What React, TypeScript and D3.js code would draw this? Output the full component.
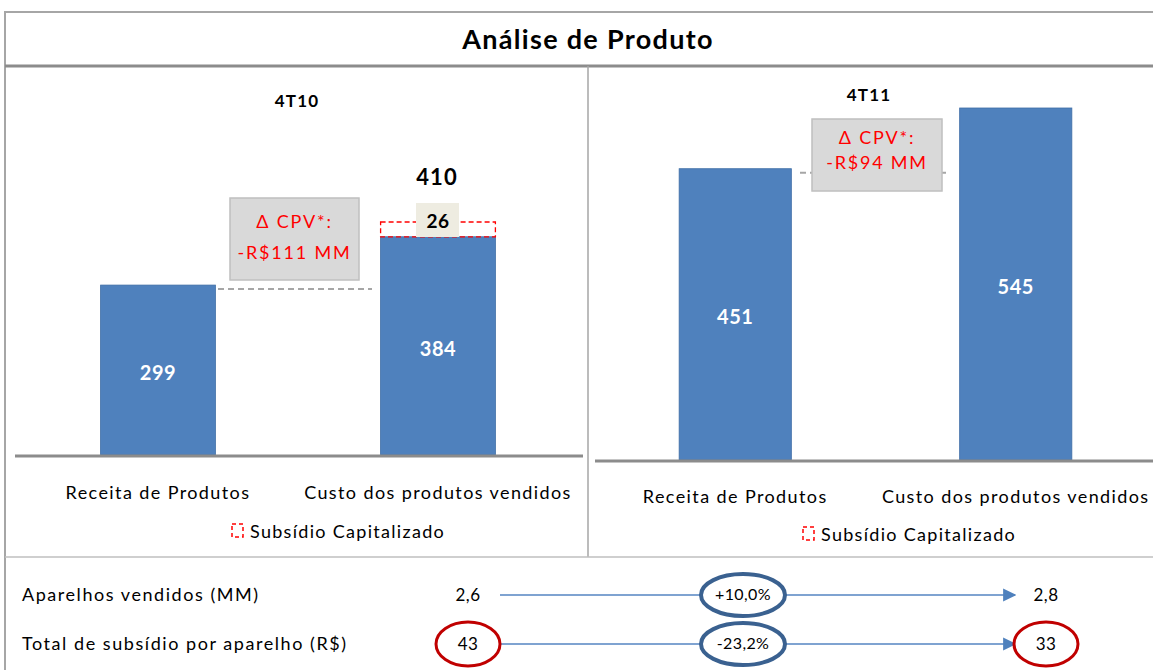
import React from "react";
import * as d3 from "d3";

const categories = ["Receita de Produtos", "Custo dos produtos vendidos"];
const periods = ["4T10", "4T11"];
const values4T10 = [299, 384];
const subsidy4T10 = [0, 26];
const total4T10 = [299, 410];
const values4T11 = [451, 545];
const cpvLabels = ["-R$111 MM", "-R$94 MM"];
const rowLabels = ["Aparelhos vendidos (MM)", "Total de subsídio por aparelho (R$)"];
const rowStart = ["2,6", "43"];
const rowEnd = ["2,8", "33"];
const rowChange = ["+10,0%", "-23,2%"];

const FONT = "Lato, 'Open Sans', sans-serif";
const BLUE = "#4F81BD";

export default function App() {
  const panels = [
    {
      period: periods[0],
      values: values4T10,
      subsidy: subsidy4T10,
      totals: total4T10,
      x: d3.scaleBand<string>().domain(categories).range([18, 578]).paddingInner(0.59).paddingOuter(0.295),
      y: d3.scaleLinear().domain([0, 410]).range([455, 222]),
      titleX: 297,
      titleY: 107,
      labelY: 499,
      legendY: 538,
      legendX: 232,
      cpv: cpvLabels[0],
      box: { x: 230, y: 198, w: 129, h: 82, t1: 30, t2: 61 },
      dash: { x1: 218, x2: 372 },
      base: { x1: 15, x2: 583 },
    },
    {
      period: periods[1],
      values: values4T11,
      subsidy: [0, 0],
      totals: values4T11,
      x: d3.scaleBand<string>().domain(categories).range([595, 1156]).paddingInner(0.6).paddingOuter(0.3),
      y: d3.scaleLinear().domain([0, 545]).range([460, 108]),
      titleX: 869,
      titleY: 101,
      labelY: 503,
      legendY: 541,
      legendX: 803,
      cpv: cpvLabels[1],
      box: { x: 812, y: 119, w: 130, h: 72, t1: 25, t2: 50 },
      dash: { x1: 800, x2: 950 },
      base: { x1: 595, x2: 1153 },
    },
  ];

  const rowY = [595, 644];

  return (
    <svg width={1153} height={670} style={{ position: "absolute", left: 0, top: 0, background: "#fff" }} fontFamily={FONT}>
      {/* frames */}
      <rect x={5} y={12} width={1160} height={700} fill="none" stroke="#A6A6A6" strokeWidth={2} />
      <line x1={5} x2={1153} y1={66} y2={66} stroke="#8C8C8C" strokeWidth={3} />
      <line x1={588} x2={588} y1={66} y2={557} stroke="#A6A6A6" strokeWidth={1.5} />
      <line x1={5} x2={1153} y1={557} y2={557} stroke="#BFBFBF" strokeWidth={1.5} />
      <text x={588} y={49} textAnchor="middle" fontSize={27} fontWeight={700} letterSpacing={1.3} fill="#000">
        Análise de Produto
      </text>

      {panels.map((p, pi) => {
        const bw = p.x.bandwidth();
        return (
          <g key={pi}>
            <text x={p.titleX} y={p.titleY} textAnchor="middle" fontSize={17} fontWeight={700} letterSpacing={1.2} fill="#000">
              {p.period}
            </text>
            {categories.map((c, i) => {
              const x0 = p.x(c)!;
              const top = p.y(p.values[i]);
              const y0 = p.y(0);
              return (
                <g key={c}>
                  <rect x={x0} y={top} width={bw} height={y0 - top} fill={BLUE} stroke="#3F6EA6" strokeWidth={0.8} />
                  <text x={x0 + bw / 2} y={(top + y0) / 2 + 10} textAnchor="middle" fontSize={20} fontWeight={700} letterSpacing={0.5} fill="#fff">
                    {p.values[i]}
                  </text>
                  {p.subsidy[i] > 0 && (
                    <g>
                      <rect
                        x={x0}
                        y={p.y(p.totals[i])}
                        width={bw}
                        height={p.y(p.values[i]) - p.y(p.totals[i])}
                        fill="none"
                        stroke="#FF0000"
                        strokeWidth={1.3}
                        strokeDasharray="5,3"
                      />
                      <rect x={x0 + bw / 2 - 22} y={p.y(p.totals[i]) - 19} width={43} height={34} fill="#EEECE1" />
                      <text x={x0 + bw / 2} y={p.y(p.totals[i]) + 6} textAnchor="middle" fontSize={19} fontWeight={700} letterSpacing={0.5} fill="#000">
                        {p.subsidy[i]}
                      </text>
                      <text x={x0 + bw / 2 - 1} y={p.y(p.totals[i]) - 37} textAnchor="middle" fontSize={22} fontWeight={700} letterSpacing={1} fill="#000">
                        {p.totals[i]}
                      </text>
                    </g>
                  )}
                  <text x={x0 + bw / 2} y={p.labelY} textAnchor="middle" fontSize={18} letterSpacing={1.4} fill="#000">
                    {c}
                  </text>
                </g>
              );
            })}
            <line x1={p.base.x1} x2={p.base.x2} y1={p.y(0) + 1} y2={p.y(0) + 1} stroke="#8C8C8C" strokeWidth={3} />
            {/* dashed level line */}
            <line
              x1={p.dash.x1}
              x2={p.dash.x2}
              y1={p.y(p.values[0]) + 4}
              y2={p.y(p.values[0]) + 4}
              stroke="#A6A6A6"
              strokeWidth={2}
              strokeDasharray="6,4"
            />
            <rect x={p.box.x} y={p.box.y} width={p.box.w} height={p.box.h} fill="#D9D9D9" stroke="#BFBFBF" strokeWidth={1.5} />
            <text x={p.box.x + p.box.w / 2} y={p.box.y + p.box.t1} textAnchor="middle" fontSize={18} letterSpacing={1.8} fill="#FF0000">
              Δ CPV*:
            </text>
            <text x={p.box.x + p.box.w / 2} y={p.box.y + p.box.t2} textAnchor="middle" fontSize={18} letterSpacing={1.8} fill="#FF0000">
              {p.cpv}
            </text>
            {/* legend */}
            <rect x={p.legendX} y={p.legendY - 14} width={11} height={13} fill="none" stroke="#FF0000" strokeWidth={1.5} strokeDasharray="4,3" />
            <text x={p.legendX + 18} y={p.legendY} fontSize={18} letterSpacing={1.3} fill="#000">
              Subsídio Capitalizado
            </text>
          </g>
        );
      })}

      <defs>
        <marker id="arr" viewBox="0 0 10 10" refX={9} refY={5} markerWidth={6} markerHeight={6} orient="auto" markerUnits="strokeWidth">
          <path d="M0,0 L10,5 L0,10 z" fill="#4F81BD" />
        </marker>
      </defs>

      {rowLabels.map((lab, i) => {
        const y = rowY[i];
        return (
          <g key={lab}>
            <text x={22} y={y + 6} fontSize={18} letterSpacing={1.55} fill="#000">
              {lab}
            </text>
            <line x1={500} x2={1015} y1={y} y2={y} stroke="#7FA3D1" strokeWidth={2.2} markerEnd="url(#arr)" />
            {i === 0 && (
              <g>
                <text x={468} y={y + 6} textAnchor="middle" fontSize={17} letterSpacing={0.5} fill="#000">
                  {rowStart[i]}
                </text>
                <text x={1046} y={y + 6} textAnchor="middle" fontSize={17} letterSpacing={0.5} fill="#000">
                  {rowEnd[i]}
                </text>
              </g>
            )}
            {i === 1 && (
              <g>
                <ellipse cx={468} cy={y} rx={32} ry={22} fill="#fff" stroke="#C00000" strokeWidth={3} />
                <text x={468} y={y + 6} textAnchor="middle" fontSize={17} letterSpacing={0.5} fill="#000">
                  {rowStart[i]}
                </text>
                <ellipse cx={1046} cy={y} rx={32} ry={22} fill="#fff" stroke="#C00000" strokeWidth={3} />
                <text x={1046} y={y + 6} textAnchor="middle" fontSize={17} letterSpacing={0.5} fill="#000">
                  {rowEnd[i]}
                </text>
              </g>
            )}
            <ellipse cx={743} cy={y} rx={42} ry={21} fill="#fff" stroke="#3A6190" strokeWidth={4} />
            <text x={743} y={y + 5} textAnchor="middle" fontSize={16} letterSpacing={0.4} fill="#000">
              {rowChange[i]}
            </text>
          </g>
        );
      })}
    </svg>
  );
}
